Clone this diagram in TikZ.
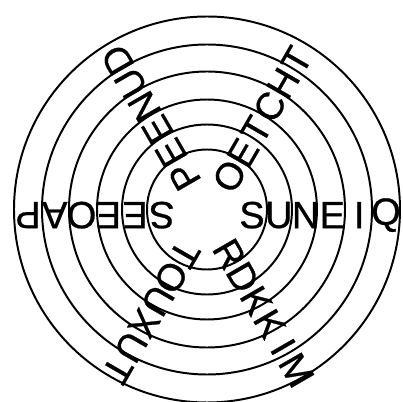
\documentclass[tikz,border=0pt]{standalone}
\usepackage{fontspec}
\setmainfont{Liberation Sans}
\newfontfamily\ringfont{Liberation Sans}[FakeBold=0.7]
\usepackage{tikz}
\usetikzlibrary{positioning}

\begin{document}
\begin{tikzpicture}[
  x=0.025cm,
  y=0.025cm,
  ring/.style={
    draw,
    line width=1.4pt
  },
  letter/.style={
    font=\ringfont\fontsize{27}{27}\selectfont,
    inner sep=0pt,
    anchor=center
  }
]
\useasboundingbox (-207,-192.5) rectangle (196,209.5);

%---------------------------------
% Rings
%---------------------------------
\foreach \r in {60,85,110,138,165,193}
  \draw[ring] (0,0) circle (\r);

%---------------------------------
% Letters along the six rays
%---------------------------------
\begin{scope}[yshift=-4]
\foreach \ang/\word in {0/{S,U,N,E,I,Q},60/{O,E,T,C,H,T},120/{P,E,E,N,U,D},180/{S,E,E,O,A,P},240/{T,O,U,X,U,T},300/{R,D,K,K,I,M}}
{
  \foreach \ch [count=\i] in \word
  {
    \pgfmathsetmacro\rad{18.2+26.8*\i}
    \node[letter, rotate=\ang] (w\ang-\i) at (\ang:\rad) {\ch};
  }
}
\end{scope}

\end{tikzpicture}
\end{document}
